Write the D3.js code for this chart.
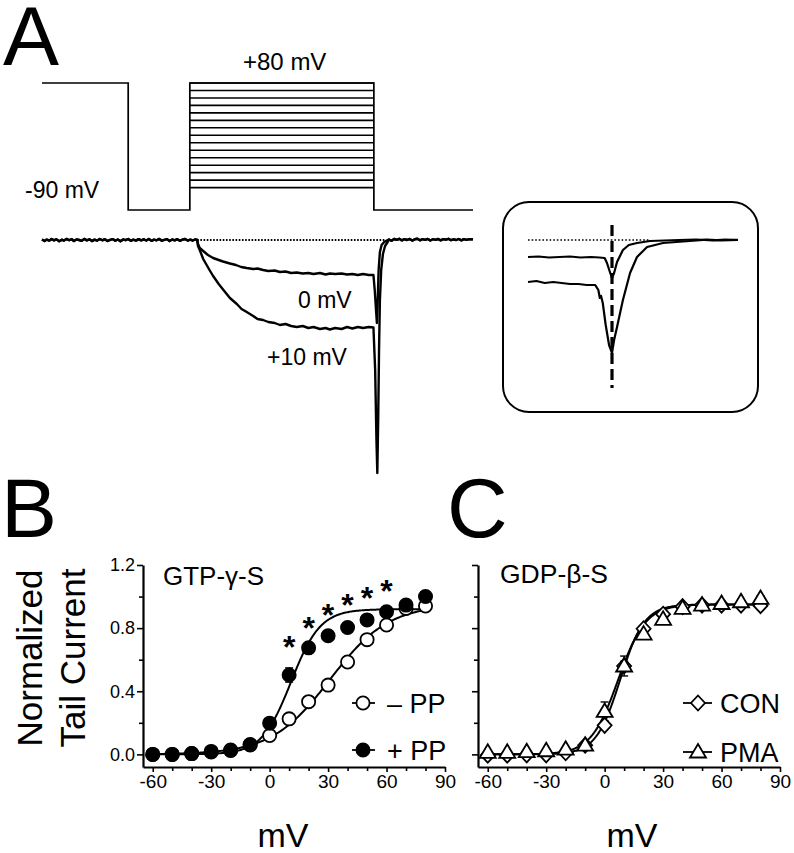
<!DOCTYPE html>
<html><head><meta charset="utf-8">
<script src="https://cdn.jsdelivr.net/npm/d3@7"></script>
<style>
body{margin:0;background:#fff}
svg{display:block}
text{font-family:"Liberation Sans",Arial,Helvetica,sans-serif;fill:#000}
</style>
</head><body>
<svg id="fig" width="794" height="853"></svg>
<script>
// ---------------- DATA ----------------
// Panel A: voltage protocol (mV) and timing (ms)
const stepLevels = [-60,-50,-40,-30,-20,-10,0,10,20,30,40,50,60,70,80];
const holdingMV = -90;
const prepulseMV = 80;
const protocolTimes = [0, 200, 343, 770, 1000]; // start, prepulse end, step start, step end, end

// Panel A: current traces (time ms, current arb. units)
const baselinePre = [[0,0.005],[6,-0.01],[11,0.004],[17,-0.006],[22,0.01],[28,-0.004],[33,0.008],[40,-0.012],[46,0.003],[51,-0.006],[57,0.011],[63,-0.002],[69,0.007],[74,-0.01],[80,0.006],[86,0],[92,-0.009],[98,0.011],[104,-0.004],[110,0.007],[116,-0.011],[122,0.004],[128,-0.006],[134,0.01],[140,-0.003],[146,0.008],[152,-0.01],[158,0.002],[164,0.009],[170,-0.007],[176,0.005],[182,-0.012],[188,0.006],[194,-0.002],[200,0.01],[206,-0.008],[212,0.003],[218,-0.006],[224,0.009],[230,-0.004],[236,0.007],[242,-0.005],[248,0.01],[254,-0.009],[260,0.004],[266,-0.003],[272,0.011],[278,-0.007],[284,0.002],[290,0.009],[296,-0.01],[302,0.005],[308,-0.004],[314,0.008],[320,-0.008],[326,0.003],[332,0.01],[338,-0.006],[344,0.004],[350,-0.005],[356,0.006],[360,0]];
const baselinePost = [[805,0.005],[811,-0.008],[817,0.01],[823,0.002],[829,0.012],[835,-0.004],[841,0.008],[847,0.0],[853,0.011],[859,-0.006],[865,0.007],[871,0.012],[877,-0.003],[883,0.009],[889,0.001],[895,0.011],[901,-0.005],[907,0.008],[913,0.002],[919,0.01],[925,-0.004],[931,0.009],[937,0.003],[943,0.012],[949,-0.002],[955,0.007],[961,0.0],[967,0.01],[973,-0.004],[979,0.008],[985,0.002],[991,0.009],[1000,0.006]];
const trace0mV = [[362,-0.04],[366,-0.08],[374,-0.11],[385,-0.15],[397,-0.18],[410,-0.2],[420,-0.215],[436,-0.235],[450,-0.25],[462,-0.27],[475,-0.28],[490,-0.29],[500,-0.285],[513,-0.3],[525,-0.31],[540,-0.305],[552,-0.32],[565,-0.315],[578,-0.33],[591,-0.325],[605,-0.335],[618,-0.33],[630,-0.34],[645,-0.33],[658,-0.345],[668,-0.335],[680,-0.34],[695,-0.335],[708,-0.345],[720,-0.34],[733,-0.35],[745,-0.34],[758,-0.35],[769,-0.35],[772,-0.5],[775,-0.7],[777,-0.83],[779,-0.6],[781,-0.3],[784,-0.12],[788,-0.05],[794,-0.02],[800,-0.005]];
const trace10mV = [[362,-0.06],[366,-0.1],[374,-0.19],[382,-0.25],[390,-0.31],[397,-0.36],[410,-0.44],[421,-0.5],[436,-0.58],[452,-0.64],[463,-0.69],[475,-0.72],[490,-0.76],[500,-0.79],[513,-0.8],[525,-0.82],[540,-0.83],[552,-0.85],[565,-0.84],[578,-0.86],[591,-0.87],[605,-0.86],[618,-0.88],[630,-0.87],[645,-0.89],[658,-0.88],[668,-0.895],[680,-0.88],[695,-0.89],[708,-0.87],[720,-0.885],[733,-0.87],[745,-0.88],[758,-0.87],[769,-0.875],[773,-1.3],[776,-2.0],[778,-2.33],[780,-1.8],[782,-1.1],[784,-0.6],[787,-0.3],[791,-0.14],[796,-0.06],[802,-0.02],[805,0.005]];
const dottedSpan = [360, 795];

// Inset: expanded tail currents (time arb., current arb.)
const insetUpper = [[0,-0.17],[5,-0.165],[10,-0.175],[15,-0.17],[20,-0.165],[25,-0.175],[30,-0.17],[34,-0.175],[36.5,-0.18],[37.6,-0.23],[39,-0.32],[40,-0.38],[41,-0.33],[42.4,-0.22],[45.2,-0.1],[48,-0.05],[51.9,-0.03],[58.1,-0.01],[65,-0.005],[72,0],[80,0.005],[88,-0.003],[94,0.004],[100,0]];
const insetLower = [[0,-0.42],[4,-0.41],[8,-0.43],[12,-0.42],[16,-0.43],[20,-0.44],[24,-0.44],[28,-0.45],[32,-0.45],[33.5,-0.5],[34.2,-0.58],[34.8,-0.56],[35.6,-0.63],[37,-0.85],[38.6,-1.05],[40,-1.13],[41,-1.0],[42.4,-0.87],[45.2,-0.6],[48.6,-0.33],[51.9,-0.17],[56.7,-0.07],[64.3,-0.03],[77.1,-0.01],[85,0.004],[92,-0.003],[100,0.002]];
const insetDotted = [0, 58];
const insetMarkTime = 40;

// Panel B: GTP-gamma-S, normalized tail current vs mV
const mV = [-60,-50,-40,-30,-20,-10,0,10,20,30,40,50,60,70,80];
const minusPP = [0,0,0.005,0.015,0.025,0.06,0.12,0.225,0.334,0.439,0.585,0.727,0.82,0.925,0.94];
const plusPP  = [0,0,0.005,0.019,0.027,0.063,0.198,0.503,0.675,0.752,0.804,0.852,0.904,0.946,1.0];
const plusPPerr = [0,0,0,0,0,0.01,0.02,0.045,0.02,0.02,0.02,0.02,0.02,0.02,0.02];
const minusPPerr = [0,0,0,0,0,0.01,0.01,0.015,0.015,0.015,0.015,0.015,0.015,0.015,0.015];
const starMV = [10,20,30,40,50,60];
const starY  = [0.727,0.842,0.925,0.988,1.034,1.082];
const fitMinusPP = {max:0.95, vhalf:31, k:15};
const fitPlusPP  = {max:0.92, vhalf:11, k:7.5};

// Panel C: GDP-beta-S
const con = [-0.005,-0.005,-0.003,-0.003,0.01,0.058,0.184,0.56,0.796,0.888,0.936,0.946,0.946,0.946,0.942];
const pma = [0.013,0.013,0.017,0.023,0.033,0.058,0.272,0.56,0.762,0.856,0.925,0.946,0.956,0.967,0.988];
const conErr = [0,0,0,0,0,0.01,0.02,0.03,0.02,0.01,0.01,0.01,0.01,0.01,0.01];
const pmaErr = [0,0,0,0,0,0.01,0.06,0.063,0.02,0.015,0.01,0.01,0.01,0.01,0.015];
const fitCON = {max:0.95, vhalf:8, k:6.2};
const fitPMA = {max:0.95, vhalf:7, k:7};

const xMajor = [-60,-30,0,30,60,90];
const xMinor = [-50,-40,-20,-10,10,20,40,50,70,80];
const yMajor = [0,0.4,0.8,1.2];
const yMinor = [0.2,0.6,1.0];

// ---------------- DRAW ----------------
const svg = d3.select("#fig");
const font = '"Liberation Sans",Arial,Helvetica,sans-serif';

// Panel letters
svg.append("text").attr("x",3).attr("y",65).attr("font-size",84).text("A");
svg.append("text").attr("x",1).attr("y",537).attr("font-size",84).text("B");
svg.append("text").attr("x",447).attr("y",537).attr("font-size",84).text("C");

// ---- Panel A protocol ----
const xT = d3.scaleLinear().domain([0,1000]).range([42,473]);
const yV = d3.scaleLinear().domain([-90,80]).range([210,83]);
const protoPts = [
  [protocolTimes[0],prepulseMV],[protocolTimes[1],prepulseMV],[protocolTimes[1],holdingMV],
  [protocolTimes[2],holdingMV],[protocolTimes[2],prepulseMV],[protocolTimes[3],prepulseMV],
  [protocolTimes[3],holdingMV],[protocolTimes[4],holdingMV]];
const line = d3.line().x(d=>xT(d[0])).y(d=>yV(d[1]));
svg.append("path").attr("d",line(protoPts)).attr("fill","none").attr("stroke","#000").attr("stroke-width",1.7);
svg.append("g").selectAll("line").data(stepLevels).join("line")
  .attr("x1",xT(protocolTimes[2])).attr("x2",xT(protocolTimes[3]))
  .attr("y1",d=>yV(d)).attr("y2",d=>yV(d))
  .attr("stroke","#000").attr("stroke-width",1.6);
svg.append("text").attr("x",243).attr("y",70).attr("font-size",24).text("+80 mV");
svg.append("text").attr("x",25).attr("y",198).attr("font-size",23).text("-90 mV");

// ---- Panel A currents ----
const yI = d3.scaleLinear().domain([0,-2.33]).range([240,473]);
const lineI = d3.line().x(d=>xT(d[0])).y(d=>yI(d[1]));
svg.append("line").attr("x1",xT(dottedSpan[0])).attr("x2",xT(dottedSpan[1]))
  .attr("y1",yI(0)).attr("y2",yI(0)).attr("stroke","#000").attr("stroke-width",1.8)
  .attr("stroke-dasharray","1.6,1.6");
[trace0mV, trace10mV].forEach(tr=>{
  svg.append("path").attr("d",lineI(baselinePre.concat(tr,baselinePost)))
    .attr("fill","none").attr("stroke","#000").attr("stroke-width",2.4).attr("stroke-linejoin","round");
});
svg.append("text").attr("x",298).attr("y",308).attr("font-size",23).text("0 mV");
svg.append("text").attr("x",267).attr("y",365).attr("font-size",23).text("+10 mV");

// ---- Inset ----
svg.append("rect").attr("x",503).attr("y",202).attr("width",255).attr("height",210)
  .attr("rx",26).attr("ry",26).attr("fill","none").attr("stroke","#000").attr("stroke-width",2);
const xIn = d3.scaleLinear().domain([0,100]).range([528,738]);
const yIn = d3.scaleLinear().domain([0,-1]).range([240,340]);
const lineIn = d3.line().x(d=>xIn(d[0])).y(d=>yIn(d[1]));
svg.append("line").attr("x1",xIn(insetDotted[0])).attr("x2",xIn(insetDotted[1]))
  .attr("y1",yIn(0)).attr("y2",yIn(0)).attr("stroke","#000").attr("stroke-width",1.6)
  .attr("stroke-dasharray","1.6,2");
[insetUpper, insetLower].forEach(tr=>{
  svg.append("path").attr("d",lineIn(tr)).attr("fill","none").attr("stroke","#000")
    .attr("stroke-width",2.2).attr("stroke-linejoin","round");
});
svg.append("line").attr("x1",xIn(insetMarkTime)).attr("x2",xIn(insetMarkTime))
  .attr("y1",225).attr("y2",388).attr("stroke","#000").attr("stroke-width",3.2)
  .attr("stroke-dasharray","11,5");

// ---- Panels B & C ----
const yS = d3.scaleLinear().domain([-0.08,1.2]).range([767,565]);
const xB = d3.scaleLinear().domain([-65,90]).range([143,445]);
const xC = d3.scaleLinear().domain([-65,90]).range([478,780]);

function boltz(p){ return v => p.max/(1+Math.exp((p.vhalf - v)/p.k)); }
const fitV = d3.range(-60,80.5,0.5);

function drawAxes(x, yLabels){
  const x0 = x.range()[0];
  const gx = svg.append("g").attr("transform","translate(0,767)")
    .call(d3.axisBottom(x).tickValues(xMajor).tickSize(5).tickSizeOuter(0).tickPadding(3).tickFormat(d=>String(d)));
  const gxm = svg.append("g").attr("transform","translate(0,767)")
    .call(d3.axisBottom(x).tickValues(xMinor).tickSize(4).tickSizeOuter(0).tickFormat(""));
  gxm.select(".domain").remove();
  const gy = svg.append("g").attr("transform",`translate(${x0},0)`)
    .call(d3.axisLeft(yS).tickValues(yMajor).tickSize(6).tickSizeOuter(0).tickPadding(2).tickFormat(yLabels? (d=>d.toFixed(1)) : ""));
  const gym = svg.append("g").attr("transform",`translate(${x0},0)`)
    .call(d3.axisLeft(yS).tickValues(yMinor).tickSize(4).tickSizeOuter(0).tickFormat(""));
  gym.select(".domain").remove();
  [gx,gxm,gy,gym].forEach(g=>{
    g.attr("font-family",font).attr("font-size",19);
    g.selectAll(".domain").attr("stroke","#000").attr("stroke-width",2.2);
    g.selectAll(".tick line").attr("stroke","#000").attr("stroke-width",1.6);
    g.selectAll(".tick text").attr("fill","#000");
  });
  gy.selectAll(".tick text").attr("font-size",18);
}
drawAxes(xB, true);
drawAxes(xC, false);

function drawFit(x, p){
  const f = boltz(p);
  svg.append("path").attr("d", d3.line().x(v=>x(v)).y(v=>yS(f(v)))(fitV))
    .attr("fill","none").attr("stroke","#000").attr("stroke-width",2);
}
function drawErr(x, vals, errs){
  const g = svg.append("g").attr("stroke","#000").attr("stroke-width",1.4);
  mV.forEach((v,i)=>{
    if(!errs[i]) return;
    const ya = yS(vals[i]+errs[i]), yb = yS(vals[i]-errs[i]);
    g.append("line").attr("x1",x(v)).attr("x2",x(v)).attr("y1",ya).attr("y2",yb);
    g.append("line").attr("x1",x(v)-4).attr("x2",x(v)+4).attr("y1",ya).attr("y2",ya);
    g.append("line").attr("x1",x(v)-4).attr("x2",x(v)+4).attr("y1",yb).attr("y2",yb);
  });
}
const diamondPath = "M0,-7.5L7,0L0,7.5L-7,0Z";
const trianglePath = "M0,-8L8,5.5L-8,5.5Z";
function drawMarkers(x, vals, type){
  const g = svg.append("g");
  mV.forEach((v,i)=>{
    marker(g, x(v), yS(vals[i]), type);
  });
}
function marker(g, cx, cy, type){
  if(type==="open"||type==="filled"){
    g.append("circle").attr("cx",cx).attr("cy",cy).attr("r",6.6)
      .attr("fill", type==="filled"?"#000":"#fff").attr("stroke","#000").attr("stroke-width",1.8);
  } else {
    g.append("path").attr("d", type==="diamond"?diamondPath:trianglePath)
      .attr("transform",`translate(${cx},${cy})`)
      .attr("fill","#fff").attr("stroke","#000").attr("stroke-width",1.8);
  }
}

// Panel B
drawFit(xB, fitMinusPP);
drawFit(xB, fitPlusPP);
drawErr(xB, minusPP, minusPPerr);
drawErr(xB, plusPP, plusPPerr);
drawMarkers(xB, minusPP, "open");
drawMarkers(xB, plusPP, "filled");
svg.append("g").selectAll("text").data(starMV).join("text")
  .attr("x",d=>xB(d)).attr("y",(d,i)=>yS(starY[i])+18).attr("text-anchor","middle")
  .attr("font-size",32).attr("font-weight","bold").text("*");
svg.append("text").attr("x",163).attr("y",585).attr("font-size",26).text("GTP-\u03B3-S");

// Panel C
drawFit(xC, fitCON);
drawFit(xC, fitPMA);
drawErr(xC, con, conErr);
drawErr(xC, pma, pmaErr);
drawMarkers(xC, con, "diamond");
drawMarkers(xC, pma, "triangle");
svg.append("text").attr("x",500).attr("y",583).attr("font-size",26.5).text("GDP-\u03B2-S");

// Legends
function legend(cx, cy, type, label, x1, x2, tx){
  const g = svg.append("g");
  g.append("line").attr("x1",x1).attr("x2",x2).attr("y1",cy).attr("y2",cy).attr("stroke","#000").attr("stroke-width",1.8);
  marker(g, cx, cy, type);
  g.append("text").attr("x",tx).attr("y",cy+9.5).attr("font-size",27).text(label);
}
legend(363, 703, "open", "\u2013 PP", 352, 375, 387);
legend(363, 750, "filled", "+ PP", 352, 375, 387);
legend(698, 703, "diamond", "CON", 683, 712, 720);
legend(698, 752, "triangle", "PMA", 683, 712, 720);

// Axis titles
svg.append("text").attr("x",283).attr("y",847).attr("text-anchor","middle").attr("font-size",34).text("mV");
svg.append("text").attr("x",632).attr("y",847).attr("text-anchor","middle").attr("font-size",34).text("mV");
svg.append("text").attr("transform","translate(42,658) rotate(-90)").attr("text-anchor","middle").attr("font-size",35).text("Normalized");
svg.append("text").attr("transform","translate(85,658) rotate(-90)").attr("text-anchor","middle").attr("font-size",35).text("Tail Current");
</script>
</body></html>
